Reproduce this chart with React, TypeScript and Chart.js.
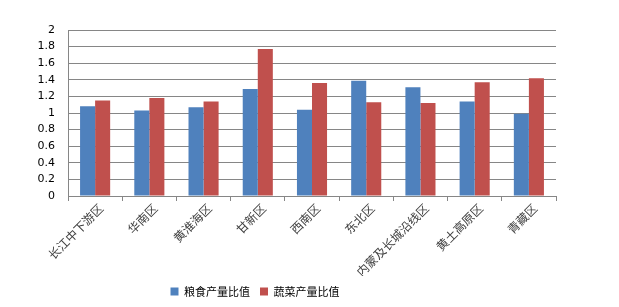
import React, { useEffect, useRef } from "react";
import { Chart, registerables } from "chart.js";

Chart.register(...registerables);

const categories = ["长江中下游区", "华南区", "黄淮海区", "甘新区", "西南区", "东北区", "内蒙及长城沿线区", "黄土高原区", "青藏区"];
const grainRatio = [1.08, 1.03, 1.07, 1.29, 1.04, 1.39, 1.31, 1.14, 0.99];
const vegRatio = [1.15, 1.18, 1.14, 1.77, 1.36, 1.13, 1.12, 1.37, 1.42];
const seriesNames = ["粮食产量比值", "蔬菜产量比值"];

const legendShift = {
  id: "legendShift",
  afterLayout(chart: any) {
    const lg = chart.legend;
    if (lg) {
      lg.left -= 23;
      lg.right -= 23;
    }
  },
};

export default function App() {
  const ref = useRef<HTMLCanvasElement | null>(null);
  useEffect(() => {
    document.body.style.margin = "0";
    const ctx = ref.current!;
    const chart = new Chart(ctx, {
      type: "bar",
      data: {
        labels: categories,
        datasets: [
          { label: seriesNames[0], data: grainRatio, backgroundColor: "#4f81bd", barPercentage: 1, categoryPercentage: 0.555 },
          { label: seriesNames[1], data: vegRatio, backgroundColor: "#c0504d", barPercentage: 1, categoryPercentage: 0.555 },
        ],
      },
      plugins: [legendShift],
      options: {
        animation: false,
        responsive: false,
        layout: { padding: { left: 0, right: 63, top: 30, bottom: 0 } },
        plugins: {
          tooltip: { enabled: false },
          legend: {
            position: "bottom",
            labels: {
              boxWidth: 8,
              boxHeight: 8,
              padding: 10,
              color: "#000",
              font: { family: "'Noto Sans CJK SC', sans-serif", size: 11 },
            },
          },
        },
        scales: {
          x: {
            afterFit: (s: any) => { s.height = 80; },
            grid: { display: true, offset: true, drawOnChartArea: false, drawTicks: true, tickLength: 5, color: "#868686" },
            border: { display: true, color: "#868686" },
            ticks: {
              minRotation: 45,
              maxRotation: 45,
              autoSkip: false,
              padding: 0,
              labelOffset: 6,
              color: "#404040",
              font: { family: "'Noto Sans CJK SC', sans-serif", size: 12 },
            },
          },
          y: {
            min: 0,
            max: 2,
            afterFit: (s: any) => { s.width = 68; },
            grid: { color: "#868686", drawTicks: false },
            border: { display: true, color: "#868686" },
            ticks: {
              stepSize: 0.2,
              padding: 13,
              color: "#000",
              font: { family: "'DejaVu Sans', sans-serif", size: 11 },
              callback: (v: any) => String(Math.round(Number(v) * 10) / 10),
            },
          },
        },
      },
    });
    return () => chart.destroy();
  }, []);
  return (
    <div style={{ position: "fixed", left: 0, top: 0, width: 619, height: 307, background: "#fff" }}>
      <canvas ref={ref} width={619} height={307} style={{ display: "block" }} />
    </div>
  );
}
